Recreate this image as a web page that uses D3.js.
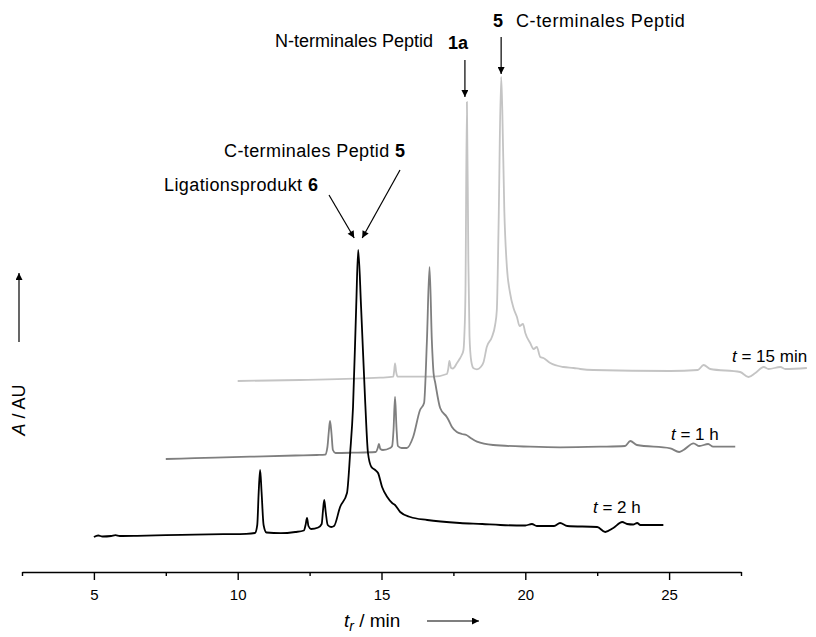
<!DOCTYPE html>
<html>
<head>
<meta charset="utf-8">
<script src="https://cdn.jsdelivr.net/npm/d3@7"></script>
<style>
  body { margin: 0; background: #fff; }
  svg { display: block; }
  text { font-family: "Liberation Sans", Arial, Helvetica, sans-serif; fill: #000; }
</style>
</head>
<body>
<svg id="chart" width="816" height="637"></svg>
<script>
// HPLC traces of the ligation mixture, retention time (min) vs. absorbance (arbitrary units)
// Sample after 2 h
const rt2h  = [5.0, 5.15, 5.3, 5.6, 5.75, 5.9, 6.5, 7.5, 8.5, 9.5, 10.3, 10.6, 10.68, 10.73, 10.78, 10.83, 10.9, 11.0, 11.5, 12.0, 12.3, 12.36, 12.41, 12.46, 12.55, 12.8, 12.92, 12.97, 13.01, 13.06, 13.13, 13.25, 13.35, 13.56, 13.8, 13.91, 14.01, 14.12, 14.19, 14.29, 14.43, 14.53, 14.65, 14.78, 14.88, 15.02, 15.2, 15.37, 15.47, 15.65, 16.0, 16.59, 17.73, 18.5, 19.13, 20.0, 20.23, 20.4, 21.0, 21.21, 21.46, 22.5, 22.78, 23.06, 23.37, 23.54, 23.75, 23.89, 24.0, 24.8];
const abs2h = [0, 1.5, 0.5, 1, 1.8, 1, 1.2, 1.8, 2.3, 2.8, 3.2, 4, 12, 45, 67, 45, 12, 4.5, 3.8, 5, 6.5, 12, 19, 11, 8, 9.5, 13, 28, 37, 25, 12, 10, 11, 30, 44, 84, 130, 230, 287, 230, 137, 84, 70, 67, 64, 50, 40, 34, 32, 25, 20, 17, 14, 13, 12, 11.5, 13, 11, 11, 14, 11, 10, 5, 9, 15, 13, 12.5, 14, 12, 12];

// Sample after 1 h
const rt1h  = [5.0, 6.0, 7.93, 9.5, 10.25, 10.54, 10.62, 10.67, 10.71, 10.76, 10.81, 10.9, 11.5, 12.3, 12.37, 12.41, 12.46, 12.55, 12.8, 12.87, 12.92, 12.97, 13.02, 13.07, 13.2, 13.38, 13.6, 13.84, 13.98, 14.08, 14.17, 14.25, 14.31, 14.37, 14.54, 14.77, 14.83, 14.95, 15.12, 15.3, 15.45, 15.6, 15.82, 16.38, 17.67, 18.71, 20.1, 20.97, 21.15, 21.38, 22.54, 22.85, 23.0, 23.35, 23.55, 23.86, 24.03, 24.8];
const abs1h = [0, 0.8, 2.3, 3.5, 4, 4.3, 12, 28, 38, 26, 9, 6, 6.3, 7, 11, 15, 10, 9, 11, 13, 30, 62, 32, 13, 11, 11, 22, 49, 56, 119, 192, 119, 86, 76, 51, 42, 39, 32, 27, 25, 24, 21, 17.3, 14, 12.3, 11.7, 12.3, 13, 18, 14, 10.7, 7, 9, 15.7, 13, 15, 12.3, 12.3];

// Sample after 15 min
const rt15  = [5.0, 7.17, 9.95, 10.41, 10.44, 10.47, 10.51, 10.56, 11.81, 12.27, 12.32, 12.36, 12.42, 12.48, 12.62, 12.73, 12.79, 12.85, 12.88, 12.92, 12.97, 13.02, 13.06, 13.12, 13.2, 13.32, 13.45, 13.55, 13.66, 13.84, 13.95, 14.01, 14.07, 14.16, 14.2, 14.27, 14.36, 14.47, 14.59, 14.71, 14.8, 14.92, 15.0, 15.17, 15.29, 15.4, 15.52, 15.63, 15.87, 16.33, 16.68, 16.91, 17.37, 20.04, 21.0, 21.2, 21.43, 22.47, 22.76, 23.0, 23.29, 23.46, 23.87, 24.04, 24.79];
const abs15 = [0, 1, 3.3, 4.3, 10, 17.7, 9, 4.3, 4.3, 7, 12, 20, 13, 12.5, 17.7, 22.7, 26, 31, 45, 91, 279, 120, 45, 20, 12.7, 11.7, 14, 19, 34, 44, 56, 71, 154, 304, 271, 171, 114, 88, 73, 64, 55, 57, 48, 38, 32, 34, 24, 23, 18, 14, 13, 12, 11, 10, 11, 16, 12, 9, 4, 8, 14, 12, 14, 12, 13];

// Waterfall offsets: each later-drawn trace is shifted right (min) and up (AU)
const traceNames  = ["t = 15 min", "t = 1 h", "t = 2 h"];
const traceShiftT = [5, 2.5, 0];
const traceShiftA = [156, 78, 0];
const traceColors = ["#c4c4c4", "#7f7f7f", "#000000"];

// Axis ticks
const majorTicks = [5, 10, 15, 20, 25];
const minorTicks = [2.5, 7.5, 12.5, 17.5, 22.5, 27.5];

const svg = d3.select("#chart");

const x = d3.scaleLinear().domain([2.5, 27.5]).range([22, 741]);
const y = d3.scaleLinear().domain([0, 500]).range([537, 37]);

// arrowhead marker
const defs = svg.append("defs");
defs.append("marker")
  .attr("id", "head")
  .attr("viewBox", "0 0 10 10")
  .attr("refX", 10).attr("refY", 5)
  .attr("markerUnits", "userSpaceOnUse")
  .attr("markerWidth", 11).attr("markerHeight", 7)
  .attr("orient", "auto")
  .append("path")
  .attr("d", "M0,0 L10,5 L0,10 Z")
  .attr("fill", "#000");

// traces
const series = [
  { rt: rt15, a: abs15 },
  { rt: rt1h, a: abs1h },
  { rt: rt2h, a: abs2h }
];

series.forEach((s, i) => {
  const pts = s.rt.map((t, k) => ({ t: t, v: s.a[k] }));
  const line = d3.line()
    .x(d => x(d.t + traceShiftT[i]))
    .y(d => y(d.v + traceShiftA[i]))
    .curve(d3.curveMonotoneX);
  svg.append("path")
    .datum(pts)
    .attr("d", line)
    .attr("fill", "none")
    .attr("stroke", traceColors[i])
    .attr("stroke-width", 1.8)
    .attr("stroke-linejoin", "round");
});

// x axis
const axisY = 572;
const gx = svg.append("g").attr("transform", `translate(0,${axisY})`);
gx.call(d3.axisBottom(x).tickValues(majorTicks).tickSize(8).tickSizeOuter(0).tickPadding(9).tickFormat(d3.format("d")));
gx.select(".domain").attr("stroke-width", 1.4);
gx.selectAll(".tick line").attr("stroke-width", 1.4);
gx.selectAll(".tick text").style("font-size", "15px").style("font-family", "'Liberation Sans', Arial, sans-serif");
const gm = svg.append("g").attr("transform", `translate(0,${axisY})`);
gm.call(d3.axisBottom(x).tickValues(minorTicks).tickSize(4).tickSizeOuter(0).tickFormat(""));
gm.select(".domain").remove();
gm.selectAll(".tick line").attr("stroke-width", 1.4);

// x axis title with arrow
const xt = svg.append("text").attr("x", 344).attr("y", 627).style("font-size", "19px");
xt.append("tspan").attr("font-style", "italic").text("t");
xt.append("tspan").attr("font-style", "italic").attr("dy", 4).style("font-size", "14px").text("r");
xt.append("tspan").attr("dy", -4).text(" / min");
svg.append("line").attr("x1", 427).attr("x2", 479).attr("y1", 621).attr("y2", 621)
  .attr("stroke", "#000").attr("stroke-width", 1.2).attr("marker-end", "url(#head)");

// y axis title with arrow
const yt = svg.append("text").attr("transform", "translate(25,410) rotate(-90)").attr("text-anchor", "middle").style("font-size", "18px");
yt.append("tspan").attr("font-style", "italic").text("A");
yt.append("tspan").text(" / AU");
svg.append("line").attr("x1", 19).attr("x2", 19).attr("y1", 342).attr("y2", 273)
  .attr("stroke", "#000").attr("stroke-width", 1.2).attr("marker-end", "url(#head)");

// trace labels
const labelPos = [[732, 362], [671, 440], [593, 513]];
traceNames.forEach((name, i) => {
  const t = svg.append("text").attr("x", labelPos[i][0]).attr("y", labelPos[i][1]).style("font-size", "17px");
  t.append("tspan").attr("font-style", "italic").text(name.slice(0, 1));
  t.append("tspan").text(name.slice(1));
});

// peak annotations
function peakOf(s, i, lo, hi) {
  let best = null;
  s.rt.forEach((t, k) => {
    if (t >= lo && t <= hi && (!best || s.a[k] > best.v)) best = { t: t, v: s.a[k] };
  });
  return { px: x(best.t + traceShiftT[i]), py: y(best.v + traceShiftA[i]) };
}
const p1a = peakOf(series[0], 0, 12.5, 13.5);
const p5  = peakOf(series[0], 0, 13.5, 14.5);
const p6  = peakOf(series[2], 2, 13.5, 14.5);

function arrow(x1, y1, x2, y2) {
  svg.append("line").attr("x1", x1).attr("y1", y1).attr("x2", x2).attr("y2", y2)
    .attr("stroke", "#000").attr("stroke-width", 1.2).attr("marker-end", "url(#head)");
}

function label(xp, yp) {
  return svg.append("text").attr("x", xp).attr("y", yp).style("font-size", "18px");
}

// N-terminal peptide 1a
label(275, 47).text("N-terminales Peptid");
label(448, 49).attr("font-weight", "bold").text("1a");
arrow(p1a.px - 2, 60, p1a.px - 2, p1a.py - 5);

// C-terminal peptide 5 (15 min)
label(493, 27).attr("font-weight", "bold").text("5");
label(516, 27).style("letter-spacing", "0.6px").text("C-terminales Peptid");
arrow(p5.px, 37, p5.px, p5.py - 3);

// 2 h: ligation product 6 and C-terminal peptide 5 co-elute
const tL = label(164, 191).style("letter-spacing", "0.4px");
tL.append("tspan").text("Ligationsprodukt ");
tL.append("tspan").attr("font-weight", "bold").text("6");
const tC2 = label(224, 157).style("letter-spacing", "0.4px");
tC2.append("tspan").text("C-terminales Peptid ");
tC2.append("tspan").attr("font-weight", "bold").text("5");
arrow(329, 195, p6.px - 4, p6.py - 12);
arrow(400, 170, p6.px + 4, p6.py - 12);
</script>
</body>
</html>
